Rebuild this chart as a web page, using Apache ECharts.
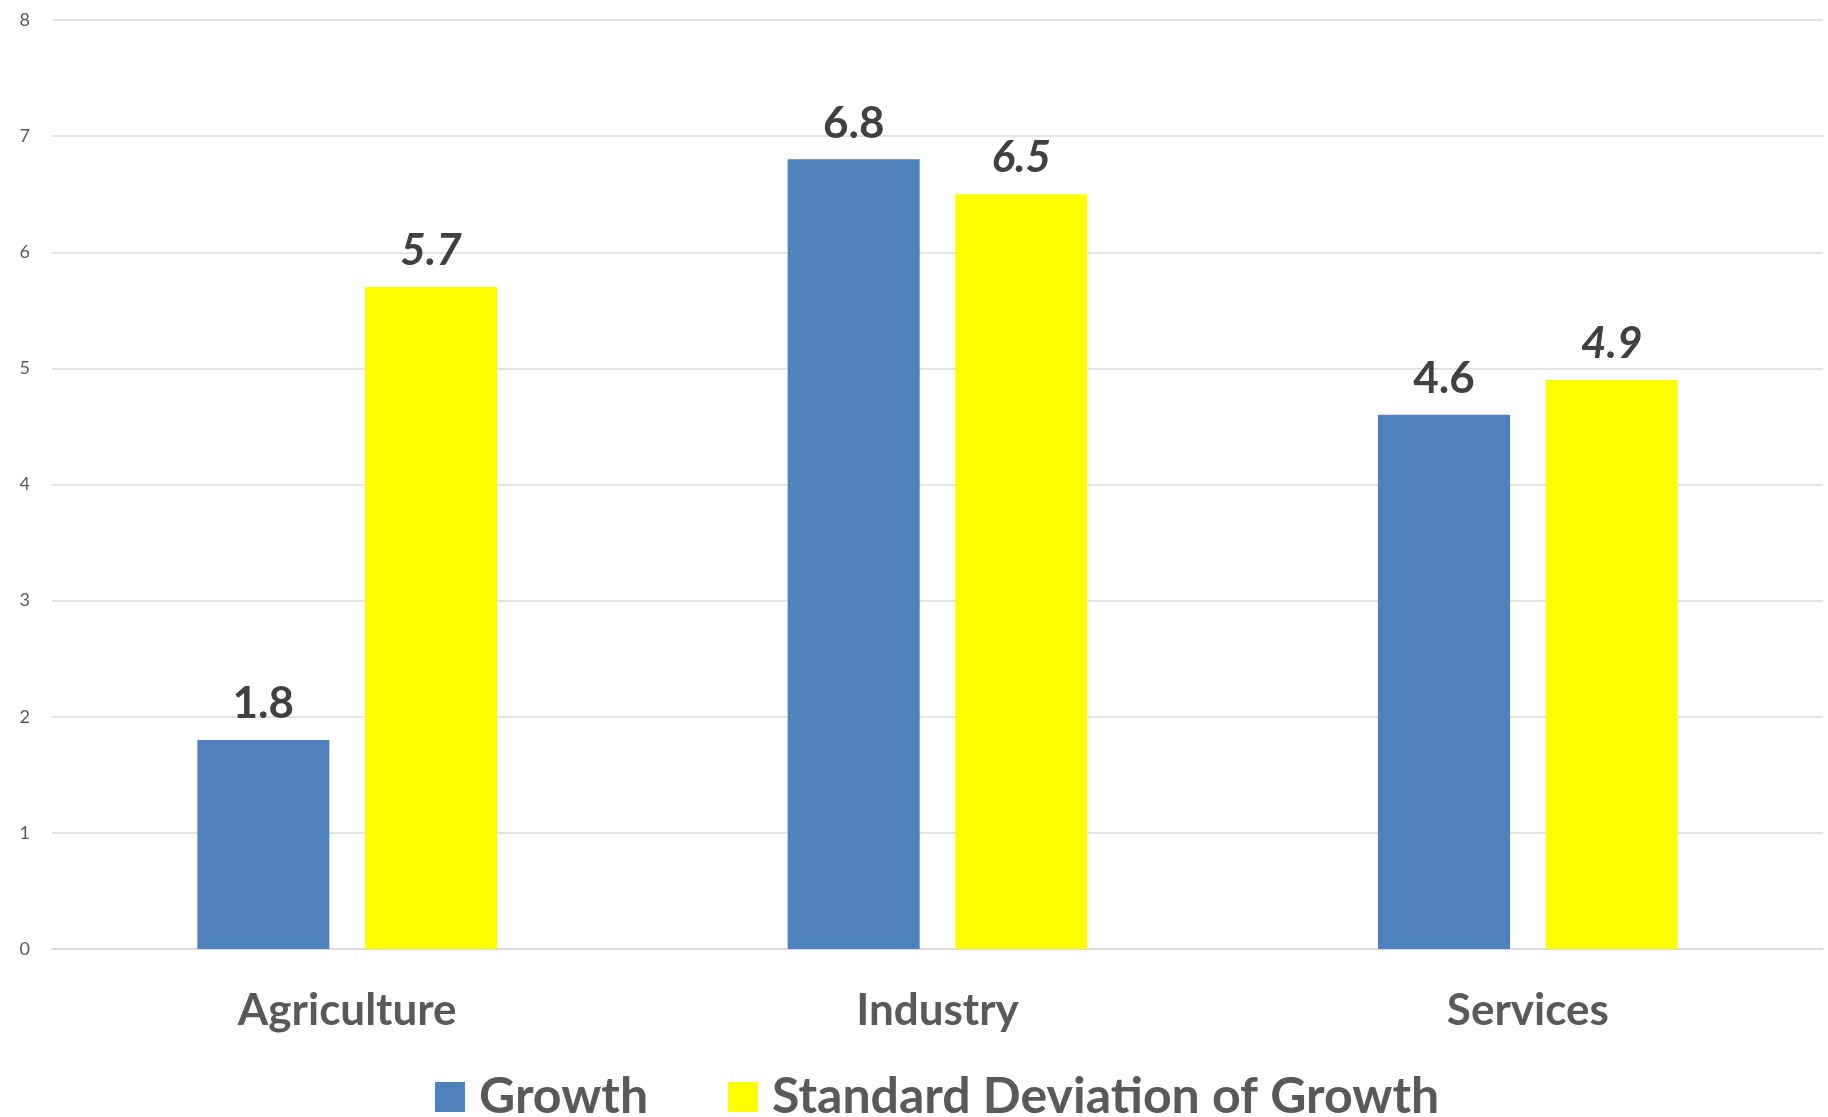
<!DOCTYPE html>
<html>
<head>
<meta charset="utf-8">
<title>Growth by Sector</title>
<script src="https://cdn.jsdelivr.net/npm/echarts@6/dist/echarts.min.js"></script>
<style>
  html, body { margin: 0; padding: 0; background: #ffffff; }
  #chart { width: 1828px; height: 1117px; }
</style>
</head>
<body>
<div id="chart"></div>
<script>
// Sectors and their values
const categories = ['Agriculture', 'Industry', 'Services'];
const growth = [1.8, 6.8, 4.6];
const stdDevGrowth = [5.7, 6.5, 4.9];
const yTicks = [0, 1, 2, 3, 4, 5, 6, 7, 8];

const FONT = 'Lato, "Open Sans", sans-serif';

const chart = echarts.init(document.getElementById('chart'), null, { renderer: 'canvas' });

chart.setOption({
  backgroundColor: '#ffffff',
  animation: false,
  grid: { left: 52, right: 5, top: 20, bottom: 168, containLabel: false },
  legend: {
    data: ['Growth', 'Standard Deviation of Growth'],
    left: 435,
    top: 1072,
    padding: 0,
    icon: 'rect',
    itemWidth: 30,
    itemHeight: 30,
    itemGap: 80,
    textStyle: { fontFamily: FONT, fontWeight: 'bold', fontSize: 50, color: '#595959', padding: [0, 0, 0, 9] }
  },
  xAxis: {
    type: 'category',
    data: categories,
    axisTick: { show: false },
    axisLine: { show: true, lineStyle: { color: '#d9d9d9', width: 1.5 } },
    axisLabel: { margin: 40, fontFamily: FONT, fontWeight: 'bold', fontSize: 44, color: '#595959' }
  },
  yAxis: {
    type: 'value',
    min: yTicks[0],
    max: yTicks[yTicks.length - 1],
    interval: 1,
    axisLine: { show: false },
    axisTick: { show: false },
    splitLine: { lineStyle: { color: '#d9d9d9', width: 1.5 } },
    axisLabel: { margin: 22, fontFamily: FONT, fontSize: 18, color: '#595959' }
  },
  series: [
    {
      name: 'Growth',
      type: 'bar',
      data: growth,
      barWidth: 132,
      barGap: '27%',
      itemStyle: { color: '#4f81bd' },
      label: {
        show: true, position: 'top', distance: 14,
        fontFamily: FONT, fontWeight: 'bold', fontSize: 44, color: '#404040'
      }
    },
    {
      name: 'Standard Deviation of Growth',
      type: 'bar',
      data: stdDevGrowth,
      barWidth: 132,
      itemStyle: { color: '#ffff00' },
      label: {
        show: true, position: 'top', distance: 14,
        fontFamily: FONT, fontWeight: 'bold', fontStyle: 'italic', fontSize: 44, color: '#404040'
      }
    }
  ]
});
</script>
</body>
</html>
